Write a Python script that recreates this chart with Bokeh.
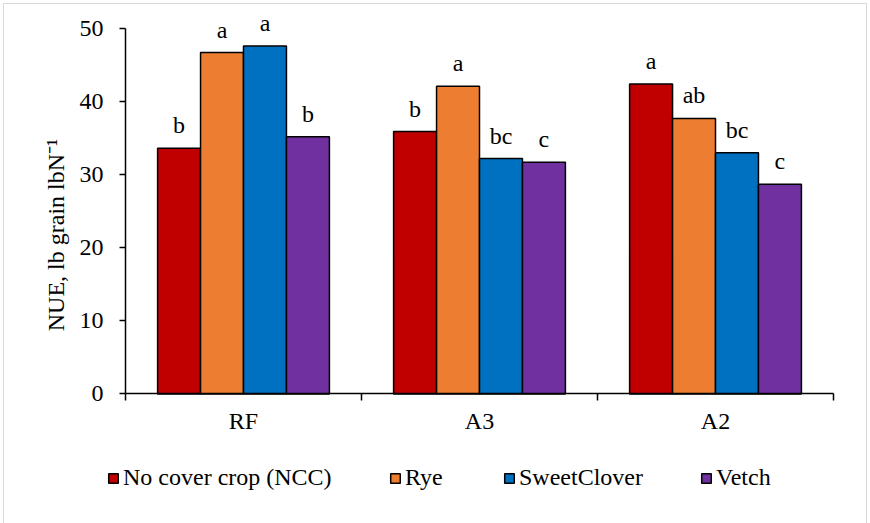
from bokeh.plotting import figure
from bokeh.models import Range1d, FixedTicker, Legend, LegendItem, ColumnDataSource
from bokeh.transform import dodge
from bokeh.core.properties import value
from bokeh.embed import file_html
from bokeh.resources import INLINE

categories = ["RF", "A3", "A2"]
series_names = ["No cover crop (NCC)", "Rye", "SweetClover", "Vetch"]
ncc = [33.6, 35.9, 42.4]
rye = [46.7, 42.1, 37.7]
sweetclover = [47.6, 32.2, 33.0]
vetch = [35.2, 31.7, 28.7]
letters_ncc = ["b", "b", "a"]
letters_rye = ["a", "a", "ab"]
letters_sweetclover = ["a", "bc", "bc"]
letters_vetch = ["b", "c", "c"]
y_ticks = [0, 10, 20, 30, 40, 50]

colors = ["#C00000", "#ED7D31", "#0070C0", "#7030A0"]
values = [ncc, rye, sweetclover, vetch]
letters = [letters_ncc, letters_rye, letters_sweetclover, letters_vetch]

FONT = "Times New Roman"
FS = "24px"

# the whole canvas is the frame; axes are pinned at x=0 / y=0 inside it
p = figure(
    x_range=Range1d(-0.5127, 3.1398), y_range=Range1d(-17.72, 53.28),
    frame_width=862, frame_height=519, min_border=0,
    min_border_left=0, min_border_right=0, min_border_top=0, min_border_bottom=0,
    output_backend="svg", toolbar_location=None,
)
p.outline_line_color = None
p.xgrid.grid_line_color = None
p.ygrid.grid_line_color = None
p.background_fill_color = "white"
p.border_fill_color = "white"
p.styles = {"border": "1px solid #d9d9d9", "border-bottom": "none",
            "margin-left": "3px", "margin-top": "3px"}

xc = [i + 0.5 for i in range(len(categories))]
bw = 0.182
offsets = [-1.5 * bw, -0.5 * bw, 0.5 * bw, 1.5 * bw]

renderers = []
for name, vals, lets, col, off in zip(series_names, values, letters, colors, offsets):
    src = ColumnDataSource(dict(x=xc, top=vals, lab=lets))
    r = p.vbar(x=dodge("x", off, range=p.x_range), top="top", width=bw, source=src,
               fill_color=col, line_color="black", line_width=1.5)
    renderers.append(r)
    p.text(x=dodge("x", off, range=p.x_range), y="top", text="lab", source=src,
           text_align="center", text_baseline="alphabetic", y_offset=-23,
           text_font=value(FONT), text_font_size=FS, text_color="black")

# y axis
ya = p.yaxis[0]
ya.fixed_location = 0
ya.ticker = FixedTicker(ticks=y_ticks)
ya.bounds = (0, 50)
ya.axis_line_color = "black"
ya.axis_line_width = 1.5
ya.major_tick_in = 0
ya.major_tick_out = 6
ya.major_tick_line_width = 1.5
ya.minor_tick_line_color = None
ya.major_label_text_font = FONT
ya.major_label_text_font_size = FS
ya.major_label_text_color = "black"
ya.major_label_standoff = 16
ya.axis_label = "NUE, lb grain lbN\u207b\u00b9\u2003\u2003"
ya.axis_label_text_font = FONT
ya.axis_label_text_font_size = FS
ya.axis_label_text_font_style = "normal"
ya.axis_label_text_color = "black"
ya.axis_label_standoff = 8

# x axis
xa = p.xaxis[0]
xa.fixed_location = 0
xa.bounds = (0, len(categories))
xa.ticker = FixedTicker(ticks=xc, minor_ticks=list(range(len(categories) + 1)))
xa.major_label_overrides = {x: c for x, c in zip(xc, categories)}
xa.major_tick_line_color = None
xa.minor_tick_line_color = "black"
xa.minor_tick_line_width = 1.5
xa.minor_tick_in = 0
xa.minor_tick_out = 7
xa.axis_line_color = "black"
xa.axis_line_width = 1.5
xa.major_label_text_font = FONT
xa.major_label_text_font_size = FS
xa.major_label_text_color = "black"
xa.major_label_standoff = 7

legend_x = [103, 385, 499, 696]
for name, r, lx in zip(series_names, renderers, legend_x):
    lg = Legend(items=[LegendItem(label=name, renderers=[r])], location=(lx, 32),
                orientation="horizontal", border_line_color=None, background_fill_alpha=0,
                padding=0, margin=0, glyph_width=12, glyph_height=12, label_standoff=4,
                label_text_font=FONT, label_text_font_size=FS, label_text_color="black")
    p.add_layout(lg, "center")

open("out.html", "w").write(file_html(p, INLINE))
